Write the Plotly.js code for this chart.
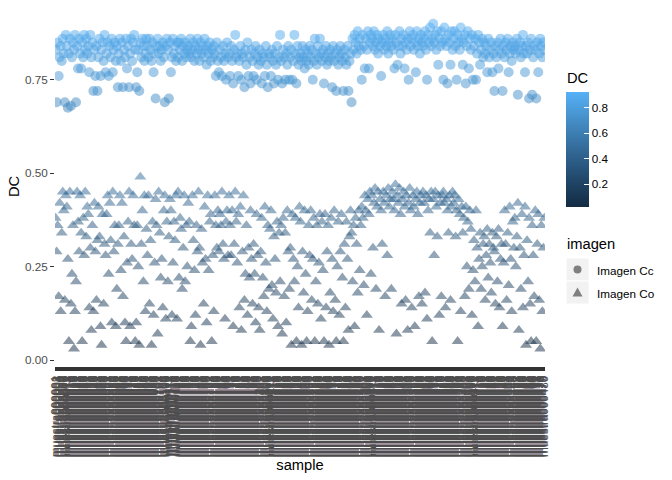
<!DOCTYPE html>
<html><head><meta charset="utf-8">
<script src="https://cdn.plot.ly/plotly-3.0.1.min.js"></script>
<style>html,body{margin:0;padding:0;background:#fff}#chart{width:672px;height:480px}</style>
</head><body><div id="chart"></div>
<script>
// DC of "Imagen Cc" for each sample (in sample order)
const dcCc = [
0.83,0.69,0.85,0.76,0.81,0.84,0.80,0.86,0.82,0.69,
0.87,0.84,0.675,0.82,0.86,0.68,0.81,0.85,0.83,0.87,
0.69,0.84,0.78,0.86,0.82,0.78,0.85,0.81,0.87,0.83,
0.86,0.82,0.84,0.77,0.87,0.81,0.85,0.72,0.83,0.76,
0.84,0.72,0.81,0.86,0.76,0.83,0.85,0.80,0.87,0.77,
0.82,0.85,0.76,0.84,0.81,0.86,0.77,0.83,0.85,0.80,
0.84,0.73,0.82,0.86,0.80,0.85,0.73,0.83,0.81,0.86,
0.78,0.84,0.73,0.82,0.86,0.80,0.85,0.87,0.83,0.73,
0.77,0.83,0.72,0.85,0.81,0.86,0.84,0.80,0.82,0.86,
0.84,0.81,0.86,0.83,0.80,0.85,0.77,0.82,0.70,0.84,
0.86,0.82,0.84,0.80,0.83,0.85,0.81,0.69,0.84,0.86,
0.83,0.70,0.85,0.77,0.81,0.86,0.82,0.84,0.80,0.85,
0.81,0.85,0.83,0.86,0.80,0.84,0.82,0.85,0.81,0.83,
0.84,0.82,0.86,0.81,0.83,0.85,0.80,0.84,0.82,0.86,
0.83,0.80,0.85,0.82,0.84,0.81,0.86,0.83,0.79,0.84,
0.82,0.85,0.80,0.83,0.81,0.84,0.82,0.76,0.85,0.80,
0.77,0.83,0.81,0.76,0.84,0.80,0.82,0.75,0.85,0.81,
0.82,0.76,0.84,0.80,0.74,0.83,0.87,0.81,0.82,0.76,
0.80,0.84,0.75,0.82,0.81,0.73,0.83,0.79,0.85,0.76,
0.81,0.74,0.83,0.80,0.76,0.82,0.84,0.75,0.81,0.79,
0.83,0.80,0.74,0.82,0.81,0.76,0.84,0.79,0.73,0.82,
0.81,0.76,0.83,0.80,0.74,0.82,0.79,0.84,0.75,0.81,
0.87,0.80,0.74,0.83,0.81,0.75,0.82,0.79,0.84,0.75,
0.81,0.83,0.75,0.80,0.87,0.82,0.74,0.84,0.79,0.81,
0.82,0.80,0.84,0.81,0.78,0.83,0.80,0.82,0.79,0.84,
0.81,0.83,0.75,0.80,0.86,0.82,0.79,0.84,0.81,0.86,
0.82,0.80,0.83,0.74,0.81,0.84,0.79,0.82,0.80,0.83,
0.81,0.73,0.84,0.80,0.82,0.72,0.83,0.79,0.81,0.84,
0.82,0.80,0.72,0.83,0.81,0.79,0.84,0.72,0.80,0.82,
0.69,0.86,0.83,0.87,0.85,0.82,0.88,0.84,0.86,0.83,
0.75,0.87,0.84,0.78,0.86,0.83,0.88,0.78,0.85,0.87,
0.86,0.84,0.88,0.83,0.85,0.87,0.82,0.86,0.84,0.76,
0.85,0.87,0.83,0.86,0.84,0.88,0.82,0.85,0.87,0.84,
0.86,0.83,0.78,0.87,0.85,0.79,0.84,0.88,0.82,0.86,
0.84,0.87,0.78,0.85,0.83,0.86,0.75,0.88,0.84,0.86,
0.87,0.83,0.85,0.77,0.88,0.84,0.86,0.82,0.87,0.85,
0.84,0.86,0.88,0.83,0.75,0.87,0.85,0.89,0.84,0.86,
0.90,0.85,0.87,0.83,0.88,0.79,0.86,0.84,0.88,0.85,
0.75,0.89,0.86,0.84,0.74,0.87,0.85,0.79,0.88,0.83,
0.86,0.88,0.84,0.75,0.87,0.85,0.83,0.89,0.86,0.79,
0.85,0.87,0.74,0.84,0.88,0.78,0.86,0.83,0.87,0.75,
0.84,0.86,0.75,0.82,0.87,0.85,0.79,0.83,0.86,0.81,
0.85,0.82,0.84,0.77,0.86,0.81,0.83,0.85,0.77,0.82,
0.72,0.84,0.81,0.85,0.78,0.83,0.86,0.82,0.72,0.84,
0.81,0.85,0.83,0.86,0.77,0.82,0.84,0.80,0.85,0.83,
0.84,0.82,0.86,0.71,0.83,0.85,0.81,0.84,0.87,0.82,
0.77,0.84,0.82,0.85,0.70,0.83,0.86,0.71,0.81,0.84,
0.83,0.70,0.85,0.77,0.82,0.86,0.84,0.81,0.85,0.83
];
// DC of "Imagen Co" for each sample (same order)
const dcCo = [
0.38,0.29,0.36,0.17,0.42,0.13,0.34,0.45,0.40,0.16,
0.44,0.41,0.27,0.05,0.45,0.15,0.23,0.36,0.03,0.13,
0.21,0.45,0.37,0.29,0.44,0.34,0.05,0.38,0.28,0.45,
0.33,0.41,0.39,0.14,0.30,0.08,0.36,0.13,0.42,0.29,
0.16,0.32,0.41,0.33,0.09,0.04,0.39,0.15,0.31,0.28,
0.39,0.44,0.23,0.42,0.32,0.10,0.45,0.29,0.36,0.09,
0.19,0.31,0.36,0.44,0.24,0.42,0.17,0.33,0.10,0.05,
0.26,0.37,0.45,0.09,0.31,0.27,0.44,0.36,0.05,0.10,
0.36,0.25,0.04,0.49,0.31,0.40,0.21,0.44,0.13,0.35,
0.28,0.44,0.15,0.32,0.04,0.37,0.12,0.26,0.43,0.36,
0.07,0.45,0.34,0.22,0.27,0.14,0.40,0.44,0.11,0.37,
0.21,0.33,0.43,0.40,0.12,0.26,0.37,0.32,0.44,0.11,
0.45,0.22,0.38,0.35,0.19,0.30,0.44,0.21,0.36,0.25,
0.42,0.37,0.05,0.09,0.44,0.32,0.24,0.12,0.36,0.29,
0.45,0.30,0.04,0.35,0.26,0.15,0.41,0.27,0.10,0.44,
0.24,0.37,0.39,0.05,0.28,0.13,0.44,0.36,0.30,0.40,
0.29,0.39,0.36,0.45,0.31,0.27,0.11,0.37,0.40,0.28,
0.44,0.36,0.28,0.40,0.09,0.31,0.45,0.37,0.26,0.39,
0.14,0.41,0.08,0.29,0.44,0.16,0.23,0.36,0.12,0.30,
0.22,0.40,0.27,0.15,0.31,0.23,0.10,0.39,0.28,0.14,
0.08,0.29,0.38,0.22,0.17,0.41,0.26,0.13,0.36,0.19,
0.35,0.40,0.20,0.11,0.33,0.27,0.18,0.37,0.09,0.34,
0.21,0.36,0.07,0.38,0.17,0.34,0.10,0.40,0.29,0.19,
0.30,0.04,0.39,0.27,0.21,0.38,0.05,0.25,0.14,0.41,
0.37,0.04,0.29,0.18,0.40,0.23,0.05,0.13,0.36,0.28,
0.40,0.16,0.27,0.38,0.05,0.21,0.36,0.15,0.26,0.39,
0.11,0.37,0.24,0.05,0.39,0.14,0.29,0.36,0.04,0.18,
0.38,0.27,0.13,0.40,0.16,0.05,0.25,0.37,0.12,0.29,
0.39,0.22,0.05,0.31,0.14,0.37,0.27,0.08,0.33,0.40,
0.34,0.21,0.36,0.09,0.38,0.31,0.18,0.40,0.24,0.36,
0.41,0.38,0.20,0.44,0.40,0.12,0.43,0.39,0.45,0.23,
0.44,0.30,0.42,0.46,0.19,0.41,0.45,0.08,0.43,0.40,
0.31,0.45,0.42,0.17,0.44,0.28,0.46,0.41,0.43,0.19,
0.45,0.43,0.40,0.47,0.07,0.44,0.42,0.46,0.39,0.15,
0.43,0.45,0.41,0.16,0.44,0.08,0.42,0.46,0.40,0.14,
0.44,0.41,0.09,0.43,0.45,0.39,0.17,0.42,0.44,0.15,
0.45,0.42,0.18,0.44,0.11,0.40,0.43,0.34,0.45,0.05,
0.43,0.28,0.45,0.41,0.33,0.44,0.12,0.42,0.17,0.44,
0.45,0.42,0.14,0.43,0.40,0.34,0.44,0.16,0.41,0.45,
0.42,0.44,0.33,0.40,0.05,0.43,0.39,0.13,0.41,0.34,
0.38,0.17,0.41,0.25,0.37,0.19,0.40,0.35,0.12,0.24,
0.32,0.21,0.40,0.30,0.09,0.27,0.34,0.19,0.25,0.31,
0.33,0.16,0.28,0.35,0.22,0.31,0.26,0.18,0.34,0.30,
0.29,0.15,0.33,0.21,0.35,0.14,0.27,0.31,0.09,0.26,
0.40,0.31,0.16,0.34,0.20,0.41,0.27,0.13,0.37,0.30,
0.38,0.25,0.33,0.42,0.08,0.30,0.19,0.39,0.14,0.28,
0.41,0.04,0.32,0.21,0.38,0.15,0.05,0.36,0.28,0.17,
0.40,0.05,0.31,0.39,0.16,0.03,0.36,0.13,0.30,0.38
];
// sample identifiers (x-axis categories; the originals are unreadable in the picture)
const samplePrefix = 'muestra';
const samples = dcCc.map((_, i) => samplePrefix + String(i + 1).padStart(6, '0'));
const imagenNames = ['Imagen Cc', 'Imagen Co'];
const yTickVals = [0, 0.25, 0.5, 0.75];
const yTickText = ['0.00', '0.25', '0.50', '0.75'];
const cbTickVals = [0.2, 0.4, 0.6, 0.8];
const cbTickText = ['0.2', '0.4', '0.6', '0.8'];
const dcLimits = [0.021, 0.923];

// ggplot2 default continuous gradient (#132B43 -> #56B1F7, Lab-interpolated)
const gradient = [[0, '#132B43'], [0.25, '#22496C'], [0.5, '#336A98'], [0.75, '#448DC6'], [1, '#56B1F7']];

// panel geometry in pixels
const W = 672, H = 480, PL = 55, PR = 545, PT = 7, PB = 366;
const px = p => (p - PL) / (PR - PL);
const py = p => (PB - p) / (PB - PT);

const FONT = 'Liberation Sans, Arial, sans-serif';

const traces = [
  {
    type: 'scatter', mode: 'markers', name: imagenNames[0], showlegend: false,
    x: samples, y: dcCc,
    marker: {
      symbol: 'circle', size: 10, opacity: 0.5, line: {width: 0},
      color: dcCc, colorscale: gradient, cmin: dcLimits[0], cmax: dcLimits[1],
      showscale: true,
      colorbar: {
        x: px(566), xanchor: 'left', xpad: 0,
        y: py(149.5), yanchor: 'middle', ypad: 0,
        len: 115, lenmode: 'pixels', thickness: 23, thicknessmode: 'pixels',
        outlinewidth: 0, ticks: 'inside', ticklen: 5, tickcolor: '#ffffff', tickwidth: 1,
        tickmode: 'array', tickvals: cbTickVals, ticktext: cbTickText,
        tickfont: {family: FONT, size: 11.7, color: '#000000'}
      }
    },
    hovertemplate: '%{x}<br>DC=%{y}<extra>Imagen Cc</extra>'
  },
  {
    type: 'scatter', mode: 'markers', name: imagenNames[1], showlegend: false,
    x: samples, y: dcCo,
    marker: {
      symbol: 'triangle-up', size: 10.5, opacity: 0.5, line: {width: 0},
      color: dcCo, colorscale: gradient, cmin: dcLimits[0], cmax: dcLimits[1],
      showscale: false
    },
    hovertemplate: '%{x}<br>DC=%{y}<extra>Imagen Co</extra>'
  }
];

const keyFill = '#F2F2F2', keyGlyph = '#7F7F7F';
const shapes = [
  {type: 'rect', xref: 'paper', yref: 'paper', x0: px(566), x1: px(589), y0: py(258), y1: py(281), fillcolor: keyFill, line: {color: '#ffffff', width: 1}, layer: 'below'},
  {type: 'rect', xref: 'paper', yref: 'paper', x0: px(566), x1: px(589), y0: py(281), y1: py(304), fillcolor: keyFill, line: {color: '#ffffff', width: 1}, layer: 'below'},
  {type: 'circle', xref: 'paper', yref: 'paper', x0: px(573.5), x1: px(581.5), y0: py(265.5), y1: py(273.5), fillcolor: keyGlyph, line: {width: 0}},
  {type: 'path', xref: 'paper', yref: 'paper',
   path: `M ${px(572.5)},${py(296.5)} L ${px(582.5)},${py(296.5)} L ${px(577.5)},${py(287.5)} Z`,
   fillcolor: keyGlyph, line: {width: 0}}
];

const ann = (text, x, y, size) => ({text, x: px(x), y: py(y), xref: 'paper', yref: 'paper', xanchor: 'left', yanchor: 'middle', showarrow: false, font: {family: FONT, size, color: '#000000'}});
const annotations = [
  ann('DC', 565, 78, 14.7),
  ann('imagen', 565, 244, 14.7),
  ann(imagenNames[0], 595, 270, 11.7),
  ann(imagenNames[1], 595, 293, 11.7)
];

const layout = {
  width: W, height: H,
  margin: {l: PL, r: W - PR, t: PT, b: H - PB, pad: 0},
  paper_bgcolor: '#ffffff', plot_bgcolor: '#ffffff',
  font: {family: FONT, color: '#000000'},
  showlegend: false,
  xaxis: {
    type: 'category', range: [-0.6, samples.length - 0.4],
    tickmode: 'array', tickvals: samples, ticktext: samples, tickangle: -90,
    ticks: 'outside', ticklen: 4, tickwidth: 1.4, tickcolor: '#333333',
    tickfont: {family: FONT, size: 11.7, color: '#4D4D4D'},
    showgrid: false, zeroline: false, showline: false, automargin: false,
    title: {text: 'sample', font: {family: FONT, size: 14.7, color: '#000000'}, standoff: 2}
  },
  yaxis: {
    range: [-0.016, 0.9447],
    tickmode: 'array', tickvals: yTickVals, ticktext: yTickText,
    ticks: 'outside', ticklen: 4, tickwidth: 1, tickcolor: '#333333',
    tickfont: {family: FONT, size: 11.7, color: '#4D4D4D'},
    showgrid: false, zeroline: false, showline: false, automargin: false,
    title: {text: 'DC', font: {family: FONT, size: 14.7, color: '#000000'}, standoff: 1}
  },
  shapes, annotations
};

Plotly.newPlot('chart', traces, layout, {displayModeBar: false, staticPlot: true});
</script>
</body></html>
